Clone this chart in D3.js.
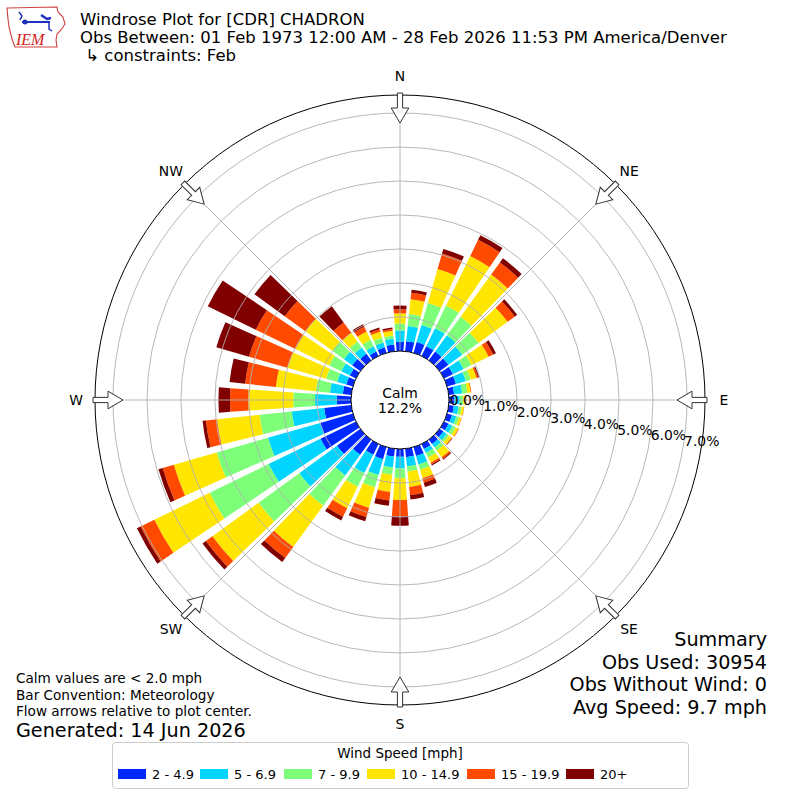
<!DOCTYPE html>
<html>
<head>
<meta charset="utf-8">
<script src="https://cdn.jsdelivr.net/npm/d3@7"></script>
<style>
  html, body { margin: 0; padding: 0; background: #fff; }
  svg { display: block; }
  text { font-family: "DejaVu Sans", sans-serif; fill: #000; }
</style>
</head>
<body>
<svg id="chart" width="800" height="800"></svg>
<script>
// ---------------- data ----------------
const directions = [0,10,20,30,40,50,60,70,80,90,100,110,120,130,140,150,160,170,
                    180,190,200,210,220,230,240,250,260,270,280,290,300,310,320,330,340,350];
const speedBins = ["2 - 4.9", "5 - 6.9", "7 - 9.9", "10 - 14.9", "15 - 19.9", "20+"];
const binColors = ["#0028ff", "#00d4ff", "#7dff7a", "#ffe600", "#ff4a00", "#800000"];

// percent of observations per direction, per speed bin
const spd2to5   = [0.27,0.30,0.33,0.32,0.32,0.32,0.29,0.27,0.16,0.16,0.15,0.15,0.15,0.14,0.16,0.16,0.27,0.25,
                   0.23,0.23,0.37,0.35,0.55,0.85,1.16,1.00,0.80,0.42,0.25,0.20,0.20,0.30,0.24,0.15,0.17,0.20];
const spd5to7   = [0.33,0.45,0.52,0.59,0.59,0.50,0.35,0.30,0.24,0.16,0.14,0.13,0.13,0.12,0.13,0.13,0.26,0.27,
                   0.34,0.32,0.48,0.60,0.75,1.37,1.70,1.60,0.96,0.64,0.38,0.28,0.28,0.30,0.23,0.17,0.15,0.17];
const spd7to10  = [0.21,0.35,0.68,0.74,0.68,0.59,0.26,0.15,0.15,0.10,0.09,0.09,0.10,0.08,0.11,0.15,0.16,0.15,
                   0.29,0.22,0.38,0.45,1.10,1.48,1.93,1.57,0.95,0.64,0.42,0.34,0.40,0.42,0.22,0.21,0.15,0.10];
const spd10to15 = [0.30,0.44,1.04,1.62,1.53,1.06,0.56,0.18,0.10,0.07,0.07,0.07,0.09,0.10,0.24,0.17,0.26,0.46,
                   0.64,0.51,0.63,0.70,1.50,1.68,1.81,1.31,1.26,1.32,1.18,1.19,1.10,0.98,0.31,0.27,0.18,0.14];
const spd15to20 = [0.12,0.19,0.47,0.53,0.44,0.26,0.15,0.05,0.02,0.02,0.01,0.01,0.02,0.02,0.06,0.05,0.14,0.24,
                   0.49,0.25,0.28,0.28,0.40,0.24,0.45,0.34,0.33,0.54,0.91,1.17,1.30,0.75,0.38,0.16,0.07,0.05];
const spd20plus = [0.11,0.09,0.14,0.15,0.15,0.09,0.09,0.03,0.00,0.00,0.00,0.00,0.00,0.01,0.03,0.04,0.13,0.13,
                   0.27,0.16,0.13,0.12,0.15,0.12,0.12,0.13,0.10,0.34,0.46,1.00,1.57,1.10,0.59,0.08,0.06,0.04];

const radialTicks = [0,1,2,3,4,5,6,7];
const compassLabels = ["N","NE","E","SE","S","SW","W","NW"];
const compassAngles = [0,45,90,135,180,225,270,315];
const calmPct = "12.2%";

const titleLines = ["Windrose Plot for [CDR] CHADRON",
                    "Obs Between: 01 Feb 1973 12:00 AM - 28 Feb 2026 11:53 PM America/Denver",
                    " \u21b3 constraints: Feb"];
const noteLines = ["Calm values are < 2.0 mph", "Bar Convention: Meteorology", "Flow arrows relative to plot center."];
const generatedText = "Generated: 14 Jun 2026";
const summaryLines = ["Summary", "Obs Used: 30954", "Obs Without Wind: 0", "Avg Speed: 9.7 mph"];

// ---------------- drawing ----------------
const svg = d3.select("#chart");
const cx = 400, cy = 400;
const calmR = 49, outerR = 305;
const r = d3.scaleLinear().domain([0, 7.53]).range([calmR, outerR]);
const deg = Math.PI / 180;
const barWidth = 8; // degrees
const fs = 13.9;

const series = [spd2to5, spd5to7, spd7to10, spd10to15, spd15to20, spd20plus];
const g = svg.append("g").attr("transform", `translate(${cx},${cy})`);

// bars
const arc = d3.arc();
const barsG = g.append("g");
directions.forEach((d, i) => {
  let cum = 0;
  series.forEach((s, k) => {
    const v = s[i];
    if (v <= 0) return;
    const path = arc({
      innerRadius: r(cum),
      outerRadius: r(cum + v),
      startAngle: (d - barWidth / 2) * deg,
      endAngle: (d + barWidth / 2) * deg
    });
    barsG.append("path").attr("d", path).attr("fill", binColors[k]);
    cum += v;
  });
});

// grid circles
const gridG = g.append("g");
radialTicks.filter(t => t > 0).forEach(t => {
  gridG.append("circle").attr("r", r(t)).attr("fill", "none")
    .attr("stroke", "#b0b0b0").attr("stroke-width", 0.9);
});
// spokes
compassAngles.forEach(a => {
  gridG.append("line")
    .attr("x1", calmR * Math.sin(a * deg)).attr("y1", -calmR * Math.cos(a * deg))
    .attr("x2", outerR * Math.sin(a * deg)).attr("y2", -outerR * Math.cos(a * deg))
    .attr("stroke", "#b0b0b0").attr("stroke-width", 0.9);
});
// outer circle
g.append("circle").attr("r", outerR).attr("fill", "none").attr("stroke", "#000").attr("stroke-width", 1);

// calm circle
g.append("circle").attr("r", calmR).attr("fill", "#fff").attr("stroke", "#000").attr("stroke-width", 1);
g.append("text").attr("x", 0).attr("y", -2).attr("text-anchor", "middle").attr("font-size", fs).text("Calm");
g.append("text").attr("x", 0).attr("y", 13).attr("text-anchor", "middle").attr("font-size", fs).text(calmPct);

// arrows
const arrowPts = [[0,-277],[-8.8,-292],[-2.6,-292],[-2.6,-307],[2.6,-307],[2.6,-292],[8.8,-292]];
compassAngles.forEach(a => {
  g.append("polygon")
    .attr("points", arrowPts.map(p => p.join(",")).join(" "))
    .attr("transform", `rotate(${a})`)
    .attr("fill", "#fff").attr("stroke", "#333").attr("stroke-width", 1);
});

// compass labels
compassLabels.forEach((lab, i) => {
  const a = compassAngles[i] * deg, rr = 324;
  g.append("text").attr("x", rr * Math.sin(a)).attr("y", -rr * Math.cos(a))
    .attr("text-anchor", "middle").attr("dominant-baseline", "central")
    .attr("font-size", fs).text(lab);
});

// radial tick labels
radialTicks.forEach(t => {
  const a = 100 * deg, rr = r(t);
  g.append("text").attr("x", rr * Math.sin(a) + 1.5).attr("y", -rr * Math.cos(a) - 3.5)
    .attr("font-size", fs).text(t.toFixed(1) + "%");
});

// title
titleLines.forEach((t, i) => {
  svg.append("text").attr("x", 80).attr("y", 25 + i * 18).attr("font-size", 16.5)
    .attr("xml:space", "preserve").style("white-space", "pre").text(t);
});

// logo
const logo = svg.append("g");
logo.append("path")
  .attr("d", "M7,8 L57,7 L58,12 L63,17 L65,24 L61,30 L57,34 L56,40 L57,47 L15,47 L13,42 L11,35 L9,27 L8,19 Z")
  .attr("fill", "#fff").attr("stroke", "#d04040").attr("stroke-width", 1.1);
logo.append("path").attr("d", "M22,22 L50,22").attr("stroke", "#2030c0").attr("stroke-width", 2);
logo.append("path").attr("d", "M19,12 L22,16 L20,20").attr("stroke", "#2030c0").attr("stroke-width", 1.5).attr("fill", "none");
logo.append("path").attr("d", "M41,15 L47,19 L51,18").attr("stroke", "#2030c0").attr("stroke-width", 2.5).attr("fill", "none");
logo.append("circle").attr("cx", 25).attr("cy", 22).attr("r", 2.5).attr("fill", "#2030c0");
logo.append("path").attr("d", "M49,22 L49,29 L52,31").attr("stroke", "#2030c0").attr("stroke-width", 1.5).attr("fill", "none");
logo.append("text").attr("x", 16).attr("y", 45).attr("font-size", 16)
  .style("font-family", "'Liberation Serif', serif").style("font-style", "italic")
  .attr("fill", "#d02020").style("fill", "#d02020").text("IEM");

// notes bottom-left
noteLines.forEach((t, i) => {
  svg.append("text").attr("x", 16).attr("y", 683 + i * 16.5).attr("font-size", 13.6).text(t);
});
svg.append("text").attr("x", 16).attr("y", 737).attr("font-size", 19.2).text(generatedText);

// summary bottom-right
summaryLines.forEach((t, i) => {
  svg.append("text").attr("x", 767).attr("y", 646 + i * 22.5).attr("text-anchor", "end")
    .attr("font-size", 19.2).text(t);
});

// legend
const lg = svg.append("g");
lg.append("rect").attr("x", 112.5).attr("y", 742.5).attr("width", 576).attr("height", 46)
  .attr("rx", 3).attr("fill", "#fff").attr("stroke", "#cccccc");
lg.append("text").attr("x", 400).attr("y", 758).attr("text-anchor", "middle").attr("font-size", 13.5).text("Wind Speed [mph]");
const legX = [118, 200, 284, 367, 467, 566];
speedBins.forEach((lab, k) => {
  lg.append("rect").attr("x", legX[k]).attr("y", 769).attr("width", 28).attr("height", 10).attr("fill", binColors[k]);
  lg.append("text").attr("x", legX[k] + 34).attr("y", 779).attr("font-size", 13).text(lab);
});
</script>
</body>
</html>
